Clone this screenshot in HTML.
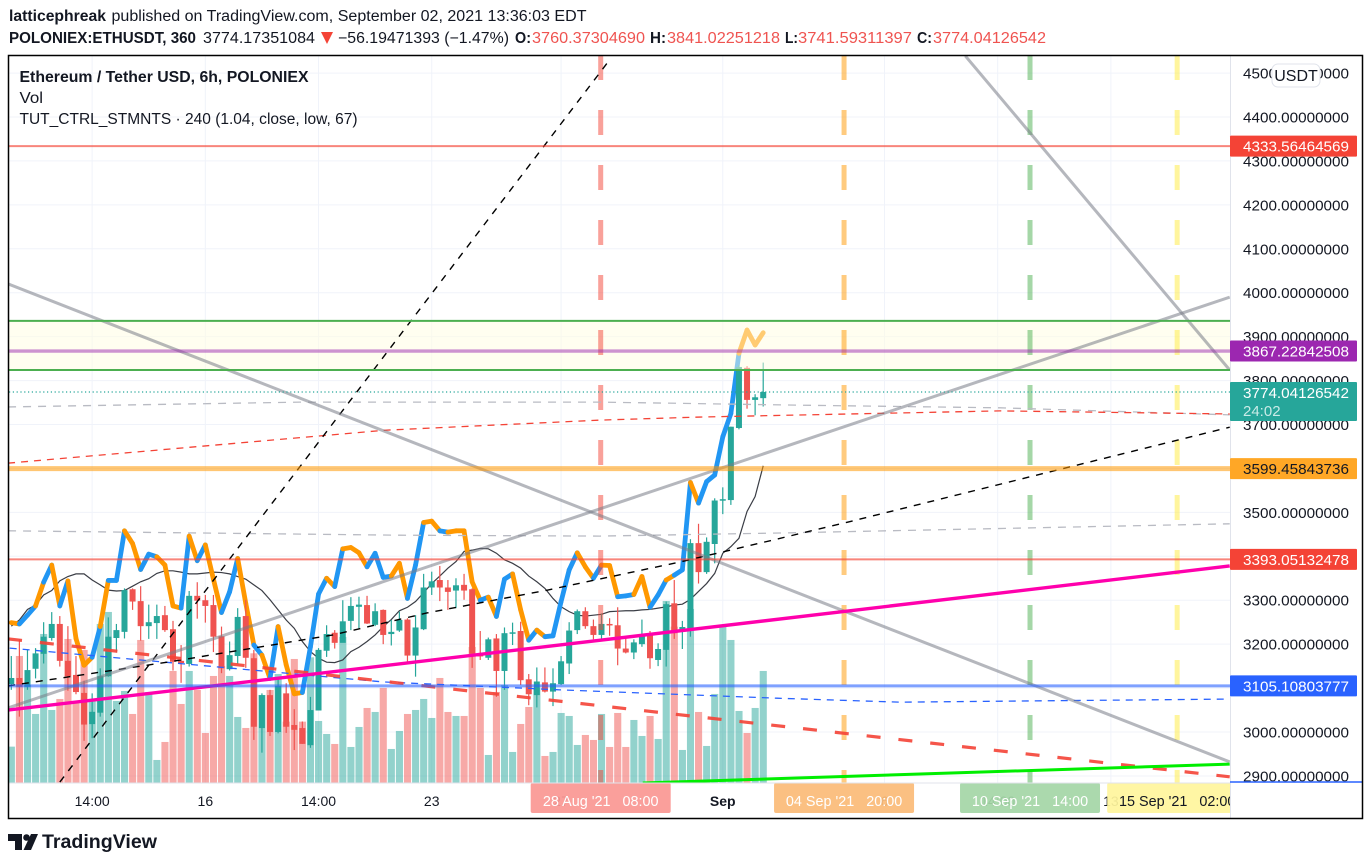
<!DOCTYPE html>
<html lang="en">
<head>
<meta charset="utf-8">
<title>ETHUSDT 6h chart</title>
<style>
html,body{margin:0;padding:0;background:#fff;width:1371px;height:865px;overflow:hidden}
svg{display:block;font-family:"Liberation Sans",sans-serif}
</style>
</head>
<body>
<svg id="chart" xmlns="http://www.w3.org/2000/svg" width="1371" height="865" viewBox="0 0 1371 865">
  <defs>
    <clipPath id="pane-clip"><rect x="9" y="56" width="1221" height="727"/></clipPath>
    <clipPath id="axis-clip"><rect x="9" y="783" width="1221" height="35"/></clipPath>
  </defs>
  <g fill="#131722" font-size="15.5">
    <text x="9" y="21" font-weight="bold" textLength="97" lengthAdjust="spacingAndGlyphs">latticephreak</text>
    <text x="111.5" y="21" textLength="475" lengthAdjust="spacingAndGlyphs">published on TradingView.com, September 02, 2021 13:36:03 EDT</text>
    <text x="9" y="43" font-weight="bold" textLength="187" lengthAdjust="spacingAndGlyphs">POLONIEX:ETHUSDT, 360</text>
    <text x="203" y="43" textLength="112" lengthAdjust="spacingAndGlyphs">3774.17351084</text>
    <polygon points="321,32 333,32 327,44" fill="#f44336"/>
    <text x="338" y="43" textLength="171" lengthAdjust="spacingAndGlyphs">−56.19471393 (−1.47%)</text>
    <text x="515" y="43" font-weight="bold" textLength="16" lengthAdjust="spacingAndGlyphs">O:</text>
    <text x="532" y="43" fill="#ef5350" textLength="113" lengthAdjust="spacingAndGlyphs">3760.37304690</text>
    <text x="650" y="43" font-weight="bold" textLength="16" lengthAdjust="spacingAndGlyphs">H:</text>
    <text x="667" y="43" fill="#ef5350" textLength="113" lengthAdjust="spacingAndGlyphs">3841.02251218</text>
    <text x="785" y="43" font-weight="bold" textLength="13" lengthAdjust="spacingAndGlyphs">L:</text>
    <text x="798" y="43" fill="#ef5350" textLength="114" lengthAdjust="spacingAndGlyphs">3741.59311397</text>
    <text x="917" y="43" font-weight="bold" textLength="15" lengthAdjust="spacingAndGlyphs">C:</text>
    <text x="933" y="43" fill="#ef5350" textLength="113" lengthAdjust="spacingAndGlyphs">3774.04126542</text>
  </g>
  <g id="pane" clip-path="url(#pane-clip)"></g>
  <g id="axis-time"></g>
  <g id="axis-price"></g>
  <g fill="#131722" font-size="15.5">
    <text x="19.5" y="82" font-weight="bold" textLength="289" lengthAdjust="spacingAndGlyphs">Ethereum / Tether USD, 6h, POLONIEX</text>
    <text x="19.5" y="103" textLength="23.5" lengthAdjust="spacingAndGlyphs">Vol</text>
    <text x="19.5" y="124" textLength="338" lengthAdjust="spacingAndGlyphs">TUT_CTRL_STMNTS · 240 (1.04, close, low, 67)</text>
  </g>
  <rect x="8.5" y="55.5" width="1354" height="763" fill="none" stroke="#000" stroke-width="1.5"/>
  <g>
    <path d="M8 834h14v16h-7v-9H8z" fill="#131722"/>
    <circle cx="26.5" cy="837.5" r="3.3" fill="#131722"/>
    <polygon points="31,834 38,834 31,850 23.5,850" fill="#131722"/>
    <text x="42" y="848" font-size="19" font-weight="bold" fill="#131722" textLength="115" lengthAdjust="spacingAndGlyphs">TradingView</text>
  </g>
</svg>
<script>
/* candle series, price units, bar 0..93 */
const opens=[3109,3123,3103,3144,3178,3214,3246,3162,3130,3089,3018,3044,3127,3214,3228,3325,3298,3241,3248,3266,3234,3162,3155,3310,3300,3289,3218,3143,3173,3264,3168,3009,3084,3000,3088,3016,3009,2970,3049,3185,3226,3203,3253,3285,3289,3244,3278,3223,3231,3256,3174,3234,3329,3346,3329,3322,3335,3325,3179,3169,3213,3139,3226,3230,3120,3084,3113,3092,3109,3156,3232,3275,3241,3221,3246,3243,3190,3181,3200,3225,3164,3187,3293,3228,3232,3430,3364,3428,3527,3528,3692,3829,3756,3760];
const highs=[3173,3211,3187,3191,3250,3273,3264,3241,3173,3117,3088,3145,3261,3246,3327,3327,3332,3290,3290,3287,3253,3198,3321,3341,3312,3312,3240,3206,3282,3301,3187,3088,3096,3122,3111,3052,3024,3080,3191,3243,3232,3300,3307,3308,3310,3293,3279,3255,3274,3259,3266,3360,3365,3378,3346,3350,3360,3327,3230,3215,3223,3238,3249,3251,3132,3147,3147,3145,3173,3250,3279,3284,3256,3270,3259,3284,3217,3211,3256,3230,3202,3297,3346,3253,3439,3474,3443,3532,3557,3695,3835,3833,3769,3841];
const lows=[3096,3035,3096,3122,3156,3208,3149,3094,3086,2980,2986,3035,3126,3181,3213,3278,3208,3212,3212,3228,3140,3112,3149,3258,3249,3182,3134,3140,3155,3146,2982,2953,2991,2997,2998,2959,2973,2964,3049,3171,3190,3215,3232,3236,3246,3241,3200,3197,3228,3156,3126,3232,3312,3298,3278,3282,3301,3146,3164,3164,3080,3096,3198,3107,3061,3056,3090,3059,3107,3132,3223,3235,3211,3211,3219,3152,3179,3166,3194,3144,3150,3149,3212,3189,3217,3338,3360,3384,3496,3517,3689,3736,3721,3741];
const closes=[3123,3103,3141,3179,3217,3246,3162,3127,3091,3017,3046,3127,3217,3232,3323,3297,3241,3250,3264,3232,3160,3157,3310,3299,3287,3217,3145,3175,3262,3169,3012,3084,3000,3105,3012,3005,2973,3050,3187,3223,3203,3252,3287,3290,3247,3275,3221,3228,3255,3174,3238,3329,3343,3329,3319,3334,3322,3178,3172,3211,3139,3225,3227,3118,3086,3115,3092,3111,3161,3231,3275,3241,3221,3246,3244,3190,3181,3204,3222,3168,3189,3291,3225,3239,3430,3364,3433,3527,3530,3695,3831,3756,3762,3774];
/* volume in arbitrary units */
const volumes=[110,382,295,208,448,220,253,433,240,400,250,478,514,247,277,208,430,274,70,124,337,238,337,280,151,322,352,322,199,166,390,265,280,328,185,373,185,378,187,148,118,439,109,169,226,214,286,103,157,208,220,253,196,316,214,202,202,409,286,85,274,295,94,178,229,286,82,94,211,202,115,145,130,208,109,211,109,190,142,202,133,547,470,100,523,214,112,268,472,430,217,151,226,337];
/* thick trend-colored indicator */
const signal=[3249,3246,3266,3287,3341,3380,3287,3344,3213,3152,3170,3240,3345,3345,3458,3429,3370,3405,3399,3380,3287,3282,3446,3390,3426,3348,3272,3319,3395,3293,3198,3175,3122,3240,3153,3087,3090,3194,3314,3350,3331,3417,3420,3408,3376,3407,3352,3355,3384,3304,3380,3477,3480,3458,3455,3458,3458,3342,3300,3307,3263,3348,3360,3278,3209,3232,3217,3219,3297,3369,3408,3376,3350,3380,3379,3308,3310,3313,3354,3284,3312,3346,3357,3369,3568,3521,3570,3585,3672,3725,3862,3915,3881,3909];
const signalStates="obbobobooo"+"bobboobboo"+"oboboobboo"+"bobooobbbo"+"booobbboob"+"booboooobo"+"bboobobbbb"+"ooboobboob"+"bobbobbbbb"+"ooo";
/* thin black moving average */
const average=[3241,3255,3279,3289,3312,3322,3344,3354,3360,3360,3346,3335,3323,3321,3322,3332,3342,3349,3361,3367,3367,3364,3360,3360,3362,3364,3363,3360,3354,3348,3335,3322,3301,3278,3255,3236,3206,3183,3168,3159,3158,3164,3183,3193,3206,3221,3240,3256,3276,3284,3297,3317,3338,3355,3373,3388,3411,3414,3418,3417,3407,3392,3384,3373,3355,3342,3327,3304,3285,3274,3266,3264,3266,3268,3274,3275,3276,3276,3278,3279,3282,3285,3289,3291,3302,3320,3338,3361,3407,3422,3441,3502,3536,3606];
/* axis labels */
const priceTicks=[4500,4400,4300,4200,4100,4000,3900,3800,3700,3600,3500,3400,3300,3200,3100,3000,2900];
const timeTickBars=[10,24,38,52,68,88,108,122,136];
const timeTickLabels=["14:00","16","14:00","23","27","Sep","6","14:00","13"];
/* horizontal drawing levels (price) */
const levelRedHigh=4333.56464569, levelBandTop=3936, levelPurple=3867.22842508, levelBandBottom=3824, levelLast=3774.04126542, levelOrange=3599.45843736, levelRedLow=3393.05132478, levelBlue=3105.10803777;
/* trend drawings: [bar, price] anchors */
const steepDashedAnchors=[[6,2886],[74,4530]];
const fallingGreyAnchors=[[-0.4,4020],[150.7,2932]];
const risingGreyAnchors=[[-0.4,3055],[150.7,3990]];
const steepGreyAnchors=[[118,4539],[150.7,3824]];
const magentaAnchors=[[-0.4,3050],[150.7,3378]];
const limeAnchors=[[78.1,2884],[150.7,2927]];
const redDashedAnchors=[[-0.4,3212],[150.7,2898]];
const blackDashedAnchors=[[-0.4,3105],[19.3,3159],[39.8,3221],[51.4,3271],[66.3,3323],[82.7,3387],[94.2,3437],[103.5,3478],[150.7,3694]];
const redThinAnchors=[[-0.4,3612],[46.2,3687],[72.8,3710],[85.2,3717],[122.3,3731],[150.7,3724]];
const greyThinUpperAnchors=[[-0.4,3740],[35.7,3751],[72.8,3751],[97.5,3744],[122.3,3738],[150.7,3722]];
const greyThinLowerAnchors=[[-0.4,3458],[48,3448],[72.8,3446],[95,3453],[150.7,3474]];
const blueThinAnchors=[[-0.2,3191],[46,3114],[67.9,3096],[94.7,3077],[109.9,3068],[150.7,3075]];
/* vertical time markers */
const markerBars=[72.9,103,126,144.2];
const markerTexts=["28 Aug '21   08:00","04 Sep '21   20:00","10 Sep '21   14:00","15 Sep '21   02:00"];

const xAt=i=>11.3+8.085*i;
const yAt=p=>117+(4400-p)*0.4393;
const volY=v=>783.3-v/3;
const NS="http://www.w3.org/2000/svg";
const pane=document.getElementById('pane');
const axisT=document.getElementById('axis-time');
const axisP=document.getElementById('axis-price');
function mk(tag,attrs,parent){
  const el=document.createElementNS(NS,tag);
  for(const k in attrs)el.setAttribute(k,attrs[k]);
  parent.appendChild(el);
  return el;
}
function pathOf(a){return a.map((p,i)=>(i?'L':'M')+xAt(p[0]).toFixed(2)+' '+yAt(p[1]).toFixed(2)).join(' ');}

/* grid */
priceTicks.forEach(p=>{
  const el=mk('line',{x1:9,x2:1230,y1:yAt(p),y2:yAt(p),stroke:'#f0f3fa','stroke-width':1},pane);
  
  
});
timeTickBars.forEach(b=>{
  const el=mk('line',{x1:xAt(b),x2:xAt(b),y1:56,y2:783,stroke:'#f0f3fa','stroke-width':1},pane);
  
  
});
/* volume */
volumes.forEach((v,i)=>{
  const up=closes[i]>=opens[i];
  const el=mk('rect',{x:xAt(i)-3.5,y:volY(v),width:7.1,height:783.3-volY(v),fill:up?'rgba(38,166,154,.5)':'rgba(239,83,80,.5)'},pane);
  
  
});
/* moving average */
{
  const el=mk('path',{d:pathOf(average.map((p,i)=>[i,p])),fill:'none',stroke:'#3a3d45','stroke-width':1.2},pane);
  
  
}
/* signal */
for(let i=0;i<signal.length-1;i++){
  const el=mk('line',{x1:xAt(i),y1:yAt(signal[i]),x2:xAt(i+1),y2:yAt(signal[i+1]),stroke:signalStates[i]==='b'?'#2196f3':'#ff9800','stroke-width':4.8,'stroke-linecap':'round'},pane);
  
  
}
/* candles */
opens.forEach((o,i)=>{
  const c=closes[i],up=c>=o,col=up?'#26a69a':'#ef5350';
  const w=mk('line',{x1:xAt(i),x2:xAt(i),y1:yAt(highs[i]),y2:yAt(lows[i]),stroke:col,'stroke-width':1.2},pane);
  
  
  const top=yAt(Math.max(o,c)),bot=yAt(Math.min(o,c));
  const b=mk('rect',{x:xAt(i)-3,y:top,width:6,height:Math.max(1.5,bot-top),fill:col},pane);
  
  
});
/* band */
{
  const el=mk('rect',{x:9,width:1221,y:yAt(levelBandTop),height:yAt(levelBandBottom)-yAt(levelBandTop),fill:'rgba(255,253,225,.5)'},pane);
  
  
}
/* vertical markers */
const markerStroke=['rgba(244,67,54,.5)','rgba(255,152,0,.5)','rgba(76,175,80,.5)','rgba(255,235,59,.5)'];
markerBars.forEach((b,i)=>{
  const el=mk('line',{x1:xAt(b),x2:xAt(b),y1:55,y2:783,stroke:markerStroke[i],'stroke-width':5,'stroke-dasharray':'25 30'},pane);
  
  
});
/* trend drawings */
function drawTrend(anchors,stroke,width,dash,name){
  const a={d:pathOf(anchors),fill:'none',stroke:stroke,'stroke-width':width};
  if(dash)a['stroke-dasharray']=dash;
  const el=mk('path',a,pane);
  
  
}
drawTrend(greyThinUpperAnchors,'#b9bbc3',1.3,'8 7','grey-dashed-curve-upper');
drawTrend(greyThinLowerAnchors,'#b9bbc3',1.3,'8 7','grey-dashed-curve-lower');
drawTrend(redThinAnchors,'#f44336',1.3,'7 6','red-dashed-curve');
drawTrend(blueThinAnchors,'#2962ff',1.3,'7 6','blue-dashed-curve');
drawTrend(blackDashedAnchors,'#000',1.4,'7 7','black-dashed-trend');
drawTrend(steepDashedAnchors,'#000',1.4,'7 7','black-dashed-steep-trend');
drawTrend(redDashedAnchors,'rgba(244,67,54,.9)',3.2,'14 18','red-dashed-trend');
drawTrend(fallingGreyAnchors,'rgba(120,123,134,.55)',3,null,'grey-falling-trend');
drawTrend(risingGreyAnchors,'rgba(120,123,134,.55)',3,null,'grey-rising-trend');
drawTrend(steepGreyAnchors,'rgba(120,123,134,.55)',3,null,'grey-steep-trend');
drawTrend(magentaAnchors,'#ff00ac',3.4,null,'magenta-trend');
drawTrend(limeAnchors,'#00ee00',3,null,'lime-trend');
/* horizontals */
function drawLevel(p,stroke,width,dash,name){
  const a={x1:9,x2:1230,y1:yAt(p),y2:yAt(p),stroke:stroke,'stroke-width':width};
  if(dash)a['stroke-dasharray']=dash;
  const el=mk('line',a,pane);
  
  
}
drawLevel(levelRedHigh,'rgba(244,67,54,.65)',2,null,'red-level-high');
drawLevel(levelBandTop,'#4caf50',2,null,'green-band-top');
drawLevel(levelBandBottom,'#4caf50',2,null,'green-band-bottom');
drawLevel(levelPurple,'rgba(156,39,176,.5)',3.4,null,'purple-level');
drawLevel(levelLast,'#26a69a',1.2,'1.2 2.6','last-price-line');
drawLevel(levelOrange,'rgba(255,152,0,.55)',5,null,'orange-level');
drawLevel(levelRedLow,'rgba(244,67,54,.65)',2,null,'red-level-low');
drawLevel(levelBlue,'rgba(41,98,255,.6)',3,null,'blue-level');

/* time axis */
const clipT=mk('g',{'clip-path':'url(#axis-clip)'},axisT);
timeTickLabels.forEach((t,i)=>{
  const el=mk('text',{x:xAt(timeTickBars[i]),y:806,'text-anchor':'middle','font-size':14,fill:'#131722','font-weight':t==='Sep'?'bold':'normal'},clipT);
  el.textContent=t;
  
  
});
const markerBoxFill=['rgba(250,152,147,.93)','rgba(251,187,120,.93)','rgba(165,214,167,.93)','rgba(255,245,157,.93)'];
const markerTextFill=['#fff','#fff','#fff','#131722'];
markerBars.forEach((b,i)=>{
  const cx=xAt(b);
  const r=mk('rect',{x:cx-70,y:783,width:140,height:30,rx:2,fill:markerBoxFill[i]},clipT);
  
  
  const t=mk('text',{x:cx,y:806,'text-anchor':'middle','font-size':14.4,fill:markerTextFill[i],style:'white-space:pre'},clipT);
  t.textContent=markerTexts[i];
  
  
});
{
  const el=mk('line',{x1:9,x2:1230,y1:783,y2:783,stroke:'#e0e3eb','stroke-width':1},axisT);
  
  
}
/* price axis */
{
  const el=mk('line',{x1:1230.5,x2:1230.5,y1:56,y2:818,stroke:'#e0e3eb','stroke-width':1},axisP);
  
  
}
priceTicks.forEach(p=>{
  const el=mk('text',{x:1243,y:yAt(p)+5.5,'font-size':15,fill:'#131722',textLength:106,lengthAdjust:'spacingAndGlyphs'},axisP);
  el.textContent=p.toFixed(8);
  
  
});
{
  const el=mk('line',{x1:1230,x2:1362,y1:782,y2:782,stroke:'#2962ff','stroke-width':1.5},axisP);
  
  
}
const tagPrices=[levelRedHigh,levelPurple,levelOrange,levelRedLow,levelBlue];
const tagFill=['#f44336','#9c27b0','#ffa726','#f44336','#2962ff'];
const tagText=['#fff','#fff','#131722','#fff','#fff'];
tagPrices.forEach((p,i)=>{
  const y=yAt(p);
  const r=mk('rect',{x:1230,y:y-10.5,width:127,height:21,rx:1,fill:tagFill[i]},axisP);
  
  
  const t=mk('text',{x:1243,y:y+5.5,'font-size':15,fill:tagText[i],textLength:106,lengthAdjust:'spacingAndGlyphs'},axisP);
  t.textContent=p.toFixed(8);
  
  
});
{
  const y=yAt(levelLast);
  const r=mk('rect',{x:1230,y:y-10,width:127,height:39,rx:1,fill:'#26a69a'},axisP);
  
  
  const t=mk('text',{x:1243,y:y+6,'font-size':15,fill:'#fff',textLength:106,lengthAdjust:'spacingAndGlyphs'},axisP);
  t.textContent=levelLast.toFixed(8);
  
  
  const c=mk('text',{x:1243,y:y+24,'font-size':15,fill:'#c9ebe7'},axisP);
  c.textContent='24:02';
  
  
}
{
  const r=mk('rect',{x:1272,y:64,width:48,height:23,rx:6,fill:'#fff',stroke:'#e0e3eb','stroke-width':1},axisP);
  
  
  const t=mk('text',{x:1296,y:81,'text-anchor':'middle','font-size':16,fill:'#131722'},axisP);
  t.textContent='USDT';
  
  
}
</script>
</body>
</html>
